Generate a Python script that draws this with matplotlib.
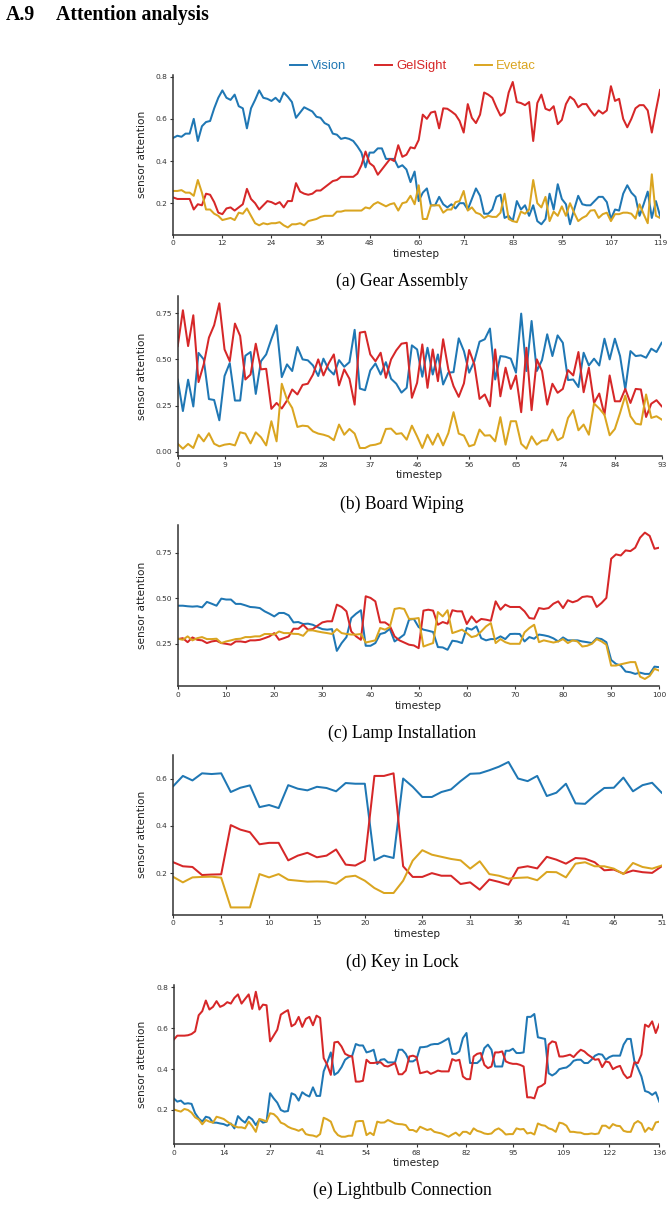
import numpy as np
import matplotlib
matplotlib.use("Agg")
import matplotlib.pyplot as plt
from matplotlib.lines import Line2D

# ---------------- data ----------------
series_names = ["Vision", "GelSight", "Evetac"]
series_colors = ["#1f77b4", "#d62728", "#daa520"]

captions = ["(a) Gear Assembly", "(b) Board Wiping", "(c) Lamp Installation",
            "(d) Key in Lock", "(e) Lightbulb Connection"]

a_vision = [0.51,0.52,0.515,0.53,0.53,0.60,0.495,0.565,0.585,0.59,
            0.65,0.70,0.735,0.70,0.69,0.715,0.66,0.65,0.555,0.65,
            0.69,0.735,0.70,0.695,0.685,0.70,0.68,0.725,0.705,0.68,
            0.605,0.63,0.655,0.645,0.635,0.61,0.605,0.58,0.57,0.53,
            0.525,0.505,0.51,0.505,0.495,0.47,0.44,0.37,0.44,0.44,
            0.46,0.46,0.41,0.41,0.41,0.37,0.38,0.36,0.30,0.35,
            0.21,0.25,0.27,0.19,0.19,0.23,0.195,0.18,0.195,0.175,
            0.20,0.20,0.17,0.22,0.27,0.235,0.15,0.15,0.17,0.23,
            0.24,0.13,0.14,0.115,0.21,0.17,0.19,0.14,0.19,0.115,
            0.10,0.125,0.245,0.17,0.29,0.22,0.195,0.10,0.17,0.235,
            0.195,0.19,0.19,0.21,0.23,0.23,0.205,0.125,0.17,0.165,
            0.245,0.285,0.25,0.23,0.14,0.195,0.255,0.13,0.21,0.14]
a_gelsight = [0.227,0.22,0.22,0.22,0.22,0.17,0.195,0.19,0.245,0.24,
              0.205,0.155,0.148,0.175,0.18,0.165,0.18,0.195,0.268,0.22,
              0.20,0.17,0.19,0.21,0.205,0.195,0.205,0.18,0.21,0.21,
              0.295,0.255,0.245,0.24,0.245,0.26,0.26,0.275,0.29,0.305,
              0.31,0.325,0.325,0.325,0.325,0.34,0.38,0.445,0.39,0.375,
              0.335,0.36,0.385,0.41,0.40,0.475,0.42,0.43,0.465,0.46,
              0.50,0.62,0.60,0.63,0.635,0.555,0.65,0.648,0.635,0.62,
              0.59,0.535,0.67,0.605,0.58,0.62,0.725,0.715,0.70,0.655,
              0.615,0.63,0.725,0.775,0.68,0.675,0.665,0.68,0.495,0.675,
              0.715,0.648,0.64,0.66,0.575,0.595,0.67,0.705,0.69,0.655,
              0.67,0.67,0.64,0.615,0.64,0.625,0.64,0.755,0.685,0.695,
              0.60,0.56,0.60,0.65,0.665,0.665,0.64,0.535,0.64,0.737]
a_evetac = [0.258,0.258,0.262,0.25,0.25,0.235,0.31,0.25,0.17,0.17,
            0.15,0.14,0.12,0.125,0.13,0.12,0.155,0.15,0.175,0.14,
            0.105,0.095,0.105,0.10,0.105,0.105,0.11,0.095,0.085,0.10,
            0.10,0.105,0.095,0.115,0.12,0.125,0.135,0.14,0.14,0.14,
            0.16,0.16,0.165,0.165,0.165,0.165,0.165,0.18,0.175,0.195,
            0.205,0.195,0.185,0.195,0.20,0.165,0.20,0.205,0.235,0.195,
            0.285,0.125,0.125,0.19,0.19,0.19,0.155,0.17,0.17,0.205,
            0.21,0.258,0.165,0.18,0.155,0.148,0.13,0.14,0.135,0.135,
            0.155,0.245,0.125,0.115,0.11,0.16,0.15,0.17,0.31,0.20,
            0.18,0.23,0.115,0.16,0.14,0.185,0.14,0.20,0.155,0.115,
            0.13,0.14,0.165,0.167,0.13,0.148,0.155,0.115,0.148,0.148,
            0.155,0.155,0.15,0.127,0.195,0.148,0.105,0.337,0.14,0.13]

b_vision = [0.39,0.22,0.39,0.245,0.535,0.50,0.285,0.28,0.17,0.41,
            0.48,0.277,0.277,0.52,0.54,0.313,0.49,0.527,0.61,0.685,
            0.404,0.473,0.437,0.567,0.50,0.495,0.467,0.41,0.504,0.446,
            0.418,0.496,0.46,0.485,0.66,0.342,0.333,0.44,0.478,0.418,
            0.485,0.395,0.368,0.32,0.346,0.576,0.554,0.406,0.563,0.418,
            0.527,0.364,0.428,0.431,0.614,0.545,0.428,0.49,0.596,0.609,
            0.667,0.391,0.518,0.514,0.504,0.428,0.748,0.437,0.708,0.437,
            0.496,0.636,0.518,0.63,0.59,0.388,0.391,0.35,0.536,0.467,
            0.504,0.467,0.612,0.50,0.612,0.518,0.337,0.545,0.518,0.522,
            0.509,0.558,0.54,0.59]
b_gelsight = [0.572,0.766,0.572,0.739,0.377,0.473,0.618,0.685,0.804,0.554,
              0.49,0.694,0.627,0.391,0.418,0.585,0.446,0.449,0.232,0.264,
              0.234,0.277,0.337,0.31,0.362,0.368,0.418,0.50,0.413,0.478,
              0.527,0.359,0.446,0.395,0.255,0.645,0.65,0.527,0.49,0.536,
              0.40,0.50,0.549,0.585,0.59,0.292,0.373,0.581,0.346,0.554,
              0.382,0.609,0.446,0.355,0.297,0.37,0.551,0.473,0.286,0.31,
              0.246,0.554,0.30,0.455,0.34,0.413,0.214,0.563,0.225,0.50,
              0.437,0.255,0.368,0.319,0.34,0.442,0.413,0.54,0.322,0.455,
              0.264,0.315,0.20,0.413,0.273,0.273,0.34,0.264,0.34,0.337,
              0.188,0.26,0.279,0.246]
b_evetac = [0.043,0.016,0.042,0.02,0.092,0.056,0.10,0.043,0.029,0.038,
            0.042,0.034,0.105,0.098,0.045,0.105,0.078,0.034,0.165,0.056,
            0.368,0.283,0.237,0.134,0.141,0.138,0.11,0.098,0.092,0.083,
            0.062,0.147,0.092,0.123,0.098,0.02,0.02,0.034,0.038,0.047,
            0.123,0.125,0.096,0.10,0.065,0.141,0.083,0.02,0.092,0.038,
            0.098,0.034,0.10,0.214,0.098,0.087,0.029,0.038,0.12,0.087,
            0.089,0.056,0.187,0.038,0.165,0.165,0.043,0.016,0.083,0.038,
            0.06,0.062,0.12,0.062,0.078,0.183,0.225,0.116,0.147,0.092,
            0.261,0.234,0.20,0.089,0.123,0.21,0.304,0.192,0.152,0.147,
            0.31,0.183,0.192,0.174]

c_vision = [0.459,0.459,0.456,0.454,0.456,0.45,0.48,0.47,0.459,0.498,
            0.493,0.493,0.469,0.469,0.461,0.452,0.45,0.446,0.428,0.415,
            0.40,0.419,0.419,0.406,0.367,0.369,0.358,0.36,0.354,0.341,
            0.33,0.327,0.33,0.21,0.253,0.286,0.391,0.415,0.434,0.238,
            0.238,0.253,0.303,0.31,0.332,0.262,0.28,0.30,0.382,0.386,
            0.341,0.327,0.321,0.314,0.231,0.229,0.216,0.266,0.262,0.253,
            0.336,0.327,0.345,0.28,0.268,0.275,0.275,0.29,0.275,0.303,
            0.304,0.303,0.262,0.286,0.277,0.30,0.296,0.29,0.279,0.262,
            0.284,0.268,0.268,0.268,0.262,0.258,0.253,0.28,0.275,0.258,
            0.16,0.138,0.129,0.096,0.092,0.083,0.09,0.083,0.083,0.123,0.12]
c_gelsight = [0.275,0.28,0.258,0.284,0.271,0.268,0.253,0.262,0.266,0.253,
              0.249,0.244,0.262,0.262,0.258,0.268,0.268,0.271,0.28,0.29,
              0.308,0.271,0.28,0.29,0.332,0.332,0.354,0.327,0.33,0.349,
              0.367,0.373,0.373,0.465,0.452,0.428,0.317,0.29,0.271,0.511,
              0.502,0.483,0.367,0.367,0.349,0.29,0.268,0.256,0.244,0.24,
              0.225,0.432,0.437,0.432,0.354,0.369,0.36,0.434,0.428,0.428,
              0.358,0.40,0.367,0.386,0.382,0.376,0.483,0.437,0.465,0.452,
              0.452,0.452,0.428,0.391,0.387,0.446,0.441,0.446,0.47,0.483,
              0.446,0.489,0.478,0.487,0.507,0.511,0.507,0.452,0.474,0.502,
              0.718,0.742,0.736,0.764,0.76,0.779,0.834,0.862,0.844,0.773,0.779]
c_evetac = [0.277,0.271,0.29,0.268,0.28,0.286,0.275,0.275,0.277,0.253,
            0.262,0.268,0.275,0.277,0.286,0.286,0.29,0.29,0.303,0.303,
            0.30,0.317,0.308,0.308,0.304,0.303,0.293,0.323,0.323,0.317,
            0.312,0.308,0.303,0.33,0.308,0.303,0.30,0.30,0.303,0.256,
            0.262,0.268,0.336,0.327,0.341,0.441,0.446,0.441,0.386,0.387,
            0.391,0.234,0.244,0.253,0.424,0.40,0.434,0.308,0.317,0.327,
            0.308,0.286,0.293,0.317,0.345,0.363,0.253,0.275,0.258,0.249,
            0.249,0.249,0.312,0.336,0.354,0.258,0.268,0.262,0.256,0.262,
            0.275,0.253,0.268,0.262,0.234,0.238,0.249,0.275,0.262,0.244,
            0.129,0.129,0.136,0.142,0.148,0.148,0.068,0.055,0.072,0.111,0.101]

d_vision = [0.568,0.611,0.592,0.622,0.619,0.622,0.543,0.561,0.571,0.479,
            0.488,0.475,0.572,0.557,0.55,0.565,0.56,0.546,0.581,0.578,
            0.578,0.254,0.274,0.264,0.60,0.565,0.522,0.522,0.543,0.554,
            0.589,0.62,0.622,0.635,0.65,0.67,0.60,0.589,0.611,0.526,
            0.54,0.578,0.495,0.493,0.529,0.56,0.561,0.604,0.546,0.572,
            0.582,0.54]
d_gelsight = [0.246,0.229,0.226,0.192,0.194,0.195,0.403,0.384,0.373,0.322,
              0.328,0.328,0.254,0.274,0.286,0.267,0.274,0.30,0.236,0.232,
              0.253,0.611,0.611,0.622,0.229,0.184,0.184,0.20,0.189,0.189,
              0.154,0.161,0.13,0.173,0.163,0.151,0.222,0.229,0.22,0.269,
              0.257,0.24,0.264,0.261,0.246,0.212,0.215,0.198,0.211,0.204,
              0.201,0.229]
d_evetac = [0.184,0.161,0.182,0.184,0.185,0.181,0.055,0.055,0.055,0.196,
            0.182,0.196,0.172,0.168,0.164,0.165,0.164,0.155,0.184,0.189,
            0.168,0.137,0.116,0.116,0.168,0.253,0.297,0.278,0.269,0.26,
            0.254,0.219,0.25,0.196,0.189,0.177,0.18,0.182,0.17,0.205,
            0.204,0.182,0.24,0.246,0.229,0.229,0.219,0.196,0.243,0.226,
            0.219,0.232]

e_vision = [0.257,0.241,0.246,0.23,0.233,0.23,0.184,0.159,0.143,0.167,
            0.162,0.138,0.138,0.134,0.131,0.123,0.134,0.11,0.17,0.151,
            0.138,0.167,0.154,0.126,0.154,0.138,0.143,0.282,0.257,0.236,
            0.20,0.192,0.195,0.282,0.274,0.246,0.287,0.274,0.266,0.311,
            0.269,0.269,0.389,0.433,0.482,0.372,0.384,0.41,0.446,0.459,
            0.466,0.523,0.516,0.516,0.482,0.487,0.495,0.425,0.446,0.449,
            0.433,0.433,0.433,0.495,0.495,0.475,0.438,0.438,0.449,0.507,
            0.508,0.511,0.52,0.523,0.523,0.531,0.541,0.551,0.475,0.475,
            0.487,0.552,0.577,0.43,0.43,0.43,0.446,0.503,0.52,0.495,
            0.413,0.413,0.413,0.49,0.49,0.50,0.479,0.479,0.482,0.656,
            0.656,0.67,0.556,0.552,0.548,0.38,0.369,0.38,0.40,0.405,
            0.408,0.421,0.441,0.446,0.446,0.43,0.43,0.446,0.466,0.474,
            0.471,0.446,0.459,0.466,0.466,0.466,0.52,0.548,0.548,0.441,
            0.405,0.364,0.293,0.287,0.274,0.287,0.241]
e_gelsight = [0.544,0.564,0.564,0.564,0.566,0.572,0.585,0.664,0.684,0.736,
              0.692,0.705,0.733,0.705,0.713,0.728,0.721,0.749,0.766,0.721,
              0.744,0.766,0.695,0.779,0.692,0.716,0.713,0.536,0.564,0.593,
              0.667,0.679,0.689,0.61,0.621,0.656,0.607,0.646,0.656,0.615,
              0.662,0.651,0.454,0.421,0.372,0.531,0.534,0.511,0.475,0.466,
              0.462,0.339,0.339,0.343,0.446,0.43,0.43,0.433,0.433,0.416,
              0.413,0.421,0.43,0.375,0.375,0.393,0.462,0.466,0.459,0.38,
              0.384,0.389,0.377,0.384,0.393,0.389,0.389,0.389,0.449,0.441,
              0.446,0.364,0.351,0.351,0.462,0.475,0.479,0.421,0.405,0.413,
              0.482,0.482,0.487,0.438,0.43,0.426,0.426,0.421,0.413,0.262,
              0.262,0.257,0.311,0.318,0.331,0.52,0.536,0.531,0.462,0.462,
              0.466,0.471,0.459,0.479,0.495,0.487,0.471,0.459,0.446,0.449,
              0.41,0.438,0.433,0.40,0.41,0.416,0.377,0.356,0.364,0.433,
              0.43,0.471,0.618,0.607,0.634,0.577,0.621]
e_evetac = [0.203,0.197,0.192,0.205,0.2,0.187,0.164,0.154,0.13,0.151,
            0.143,0.138,0.167,0.162,0.156,0.143,0.131,0.121,0.115,0.115,
            0.11,0.143,0.121,0.093,0.156,0.151,0.143,0.184,0.18,0.164,
            0.138,0.131,0.118,0.11,0.105,0.098,0.107,0.082,0.077,0.075,
            0.069,0.082,0.162,0.154,0.143,0.098,0.077,0.069,0.069,0.074,
            0.074,0.143,0.146,0.146,0.077,0.089,0.077,0.143,0.138,0.139,
            0.151,0.143,0.134,0.131,0.13,0.126,0.102,0.102,0.093,0.118,
            0.11,0.102,0.107,0.093,0.089,0.085,0.077,0.069,0.08,0.089,
            0.074,0.093,0.093,0.082,0.11,0.098,0.093,0.085,0.082,0.085,
            0.102,0.11,0.098,0.08,0.082,0.082,0.11,0.105,0.107,0.085,
            0.089,0.08,0.134,0.126,0.123,0.11,0.105,0.093,0.138,0.134,
            0.123,0.093,0.093,0.09,0.089,0.082,0.082,0.085,0.082,0.085,
            0.123,0.123,0.11,0.131,0.123,0.121,0.098,0.093,0.093,0.134,
            0.146,0.134,0.093,0.113,0.102,0.139,0.143]

a_xticks = [0, 12, 24, 36, 48, 60, 71, 83, 95, 107, 119]
b_xticks = [0, 9, 19, 28, 37, 46, 56, 65, 74, 84, 93]
c_xticks = [0, 10, 20, 30, 40, 50, 60, 70, 80, 90, 100]
d_xticks = [0, 5, 10, 15, 20, 26, 31, 36, 41, 46, 51]
e_xticks = [0, 14, 27, 41, 54, 68, 82, 95, 109, 122, 136]

a_yticks = [0.2, 0.4, 0.6, 0.8]
b_yticks = [0.00, 0.25, 0.50, 0.75]
c_yticks = [0.25, 0.50, 0.75]
d_yticks = [0.2, 0.4, 0.6]
e_yticks = [0.2, 0.4, 0.6, 0.8]

panels = [
    (a_vision, a_gelsight, a_evetac, a_xticks, a_yticks, "%.1f"),
    (b_vision, b_gelsight, b_evetac, b_xticks, b_yticks, "%.2f"),
    (c_vision, c_gelsight, c_evetac, c_xticks, c_yticks, "%.2f"),
    (d_vision, d_gelsight, d_evetac, d_xticks, d_yticks, "%.1f"),
    (e_vision, e_gelsight, e_evetac, e_xticks, e_yticks, "%.1f"),
]

# ---------------- layout (pixels) ----------------
W, H = 672, 1206
# left, right, bottom-spine y (px from top), axes height px
boxes = [(173.3, 660.0, 234.7, 160.0),
         (177.7, 661.7, 456.0, 160.0),
         (178.0, 659.3, 686.3, 161.0),
         (173.3, 661.7, 914.7, 160.0),
         (173.7, 659.3, 1144.0, 159.5)]
caption_y = [281, 504, 733, 962, 1190]

fig = plt.figure(figsize=(W / 100, H / 100), dpi=100)
fig.patch.set_facecolor("white")

serif = "Liberation Serif"
spine_col = "#333333"

fig.text(6 / W, 1 - 15 / H, "A.9", fontfamily=serif, fontweight="bold",
         fontsize=14.3, ha="left", va="center")
fig.text(56 / W, 1 - 15 / H, "Attention analysis", fontfamily=serif,
         fontweight="bold", fontsize=14.3, ha="left", va="center")

for i, (vis, gel, eve, xt, yt, fmt) in enumerate(panels):
    l, r, b, h = boxes[i]
    ax = fig.add_axes([l / W, 1 - b / H, (r - l) / W, h / H])
    x = np.arange(len(vis))
    for vals, col, name in zip([vis, gel, eve], series_colors, series_names):
        ax.plot(x, vals, color=col, lw=1.45, label=name)
    ax.set_xlim(0, len(vis) - 1)
    ax.set_xticks(xt)
    ax.set_xticklabels([str(t) for t in xt])
    ax.set_yticks(yt)
    ax.set_yticklabels([fmt % t for t in yt])
    for s in ["top", "right"]:
        ax.spines[s].set_visible(False)
    for s in ["left", "bottom"]:
        ax.spines[s].set_color(spine_col)
        ax.spines[s].set_linewidth(1.1)
    ax.tick_params(axis="both", labelsize=5.4, length=2.5, width=0.8,
                   pad=1.5, colors=spine_col, labelcolor="#333333")
    cx = (l + r) / 2
    fig.text(cx / W, 1 - (b + 19.5) / H, "timestep", fontsize=7.6,
             ha="center", va="center", color="#222222")
    fig.text(142 / W, 1 - (b - h / 2) / H, "sensor attention", fontsize=7.6,
             rotation=90, ha="center", va="center", color="#222222")
    fig.text(402 / W, 1 - caption_y[i] / H, captions[i], fontfamily=serif,
             fontsize=12.7, ha="center", va="center")

handles = [Line2D([], [], color=c, lw=1.4) for c in series_colors]
leg = fig.legend(handles, series_names, loc="center", ncol=3,
                 bbox_to_anchor=(413 / W, 1 - 66 / H), frameon=False,
                 prop={"family": "Liberation Sans", "size": 9.4},
                 handlelength=1.3, handletextpad=0.3, columnspacing=2.2)
for txt, c in zip(leg.get_texts(), series_colors):
    txt.set_color(c)

fig.savefig("out.png", dpi=100, facecolor="white")
